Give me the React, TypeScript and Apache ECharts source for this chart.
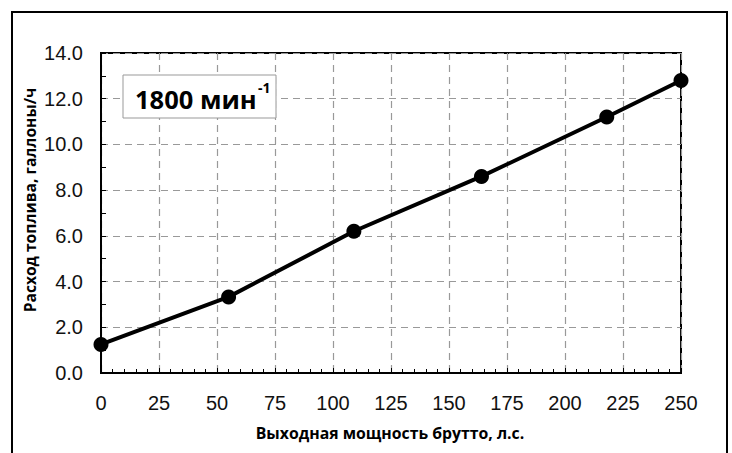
import React, { useEffect, useRef } from "react";
import * as echarts from "echarts";

const powerHp = [0, 55, 109, 164, 218, 250];
const fuelGph = [1.25, 3.33, 6.2, 8.6, 11.2, 12.8];
const yTickLabels = ["0.0", "2.0", "4.0", "6.0", "8.0", "10.0", "12.0", "14.0"];
const xTickLabels = ["0", "25", "50", "75", "100", "125", "150", "175", "200", "225", "250"];
const yAxisTitle = "Расход топлива, галлоны/ч";
const xAxisTitle = "Выходная мощность брутто, л.с.";
const rpmText = "1800 мин";
const rpmSup = "-1";

export default function App() {
  const ref = useRef<HTMLDivElement>(null);
  useEffect(() => {
    if (!ref.current) return;
    const chart = echarts.init(ref.current, null, { renderer: "svg" });
    const data = powerHp.map((x, i) => [x, fuelGph[i]]);
    chart.setOption({
      animation: false,
      backgroundColor: "#fff",
      grid: {
        left: 101,
        top: 53,
        width: 580,
        height: 320,
        show: true,
        borderColor: "#000",
        borderWidth: 2,
        backgroundColor: "transparent",
      },
      xAxis: {
        type: "value",
        min: 0,
        max: 250,
        interval: 25,
        axisLine: { show: true, onZero: false, lineStyle: { color: "#000", width: 2 } },
        axisTick: { show: true, inside: true, length: 5, lineStyle: { color: "#000" } },
        minorTick: { show: true, splitNumber: 5, length: 4, lineStyle: { color: "#000" } },
        splitLine: { show: true, lineStyle: { color: "#999", type: [7, 5], width: 1.2 } },
        axisLabel: {
          margin: 20,
          fontFamily: "Liberation Sans",
          fontSize: 20,
          color: "#111",
          formatter: (v: number) => xTickLabels[Math.round(v / 25)] ?? String(v),
        },
      },
      yAxis: {
        type: "value",
        min: 0,
        max: 14,
        interval: 2,
        axisLine: { show: true, onZero: false, lineStyle: { color: "#000", width: 2 } },
        axisTick: { show: true, inside: true, length: 5, lineStyle: { color: "#000" } },
        minorTick: { show: true, splitNumber: 2, length: 5, lineStyle: { color: "#000" } },
        splitLine: { show: true, lineStyle: { color: "#999", type: [7, 5], width: 1.2 } },
        axisLabel: {
          margin: 18,
          fontFamily: "Liberation Sans",
          fontSize: 20,
          color: "#111",
          formatter: (v: number) => yTickLabels[Math.round(v / 2)] ?? String(v),
        },
      },
      series: [
        {
          type: "line",
          data,
          symbol: "circle",
          symbolSize: 15,
          itemStyle: { color: "#000" },
          lineStyle: { color: "#000", width: 4 },
          z: 5,
        },
      ],
      graphic: [
        {
          type: "rect",
          shape: { x: 12, y: 12, width: 715, height: 460 },
          style: { fill: "none", stroke: "#000", lineWidth: 2 },
          silent: true,
        },
        {
          type: "rect",
          shape: { x: 123, y: 75, width: 153, height: 43 },
          style: { fill: "#fff", stroke: "#999", lineWidth: 1 },
          z: 10,
        },
        {
          type: "text",
          x: 135,
          y: 99,
          z: 11,
          style: {
            text: rpmText,
            fontFamily: "Open Sans",
            fontWeight: "bold",
            fontSize: 25.5,
            fill: "#000",
            verticalAlign: "middle",
            align: "left",
          },
        },
        {
          type: "text",
          x: 258,
          y: 87,
          z: 11,
          style: {
            text: rpmSup,
            fontFamily: "Open Sans",
            fontWeight: "bold",
            fontSize: 14,
            fill: "#000",
            verticalAlign: "middle",
            align: "left",
          },
        },
        {
          type: "text",
          x: 30,
          y: 200,
          rotation: Math.PI / 2,
          style: {
            text: yAxisTitle,
            fontFamily: "Open Sans",
            fontWeight: "bold",
            fontSize: 15.6,
            fill: "#000",
            align: "center",
            verticalAlign: "middle",
          },
        },
        {
          type: "text",
          x: 390,
          y: 433,
          style: {
            text: xAxisTitle,
            fontFamily: "Open Sans",
            fontWeight: "bold",
            fontSize: 15.8,
            fill: "#000",
            align: "center",
            verticalAlign: "middle",
          },
        },
      ],
    });
    return () => chart.dispose();
  }, []);
  return (
    <div
      ref={ref}
      style={{ position: "fixed", left: 0, top: 0, width: 732, height: 453 }}
    />
  );
}
